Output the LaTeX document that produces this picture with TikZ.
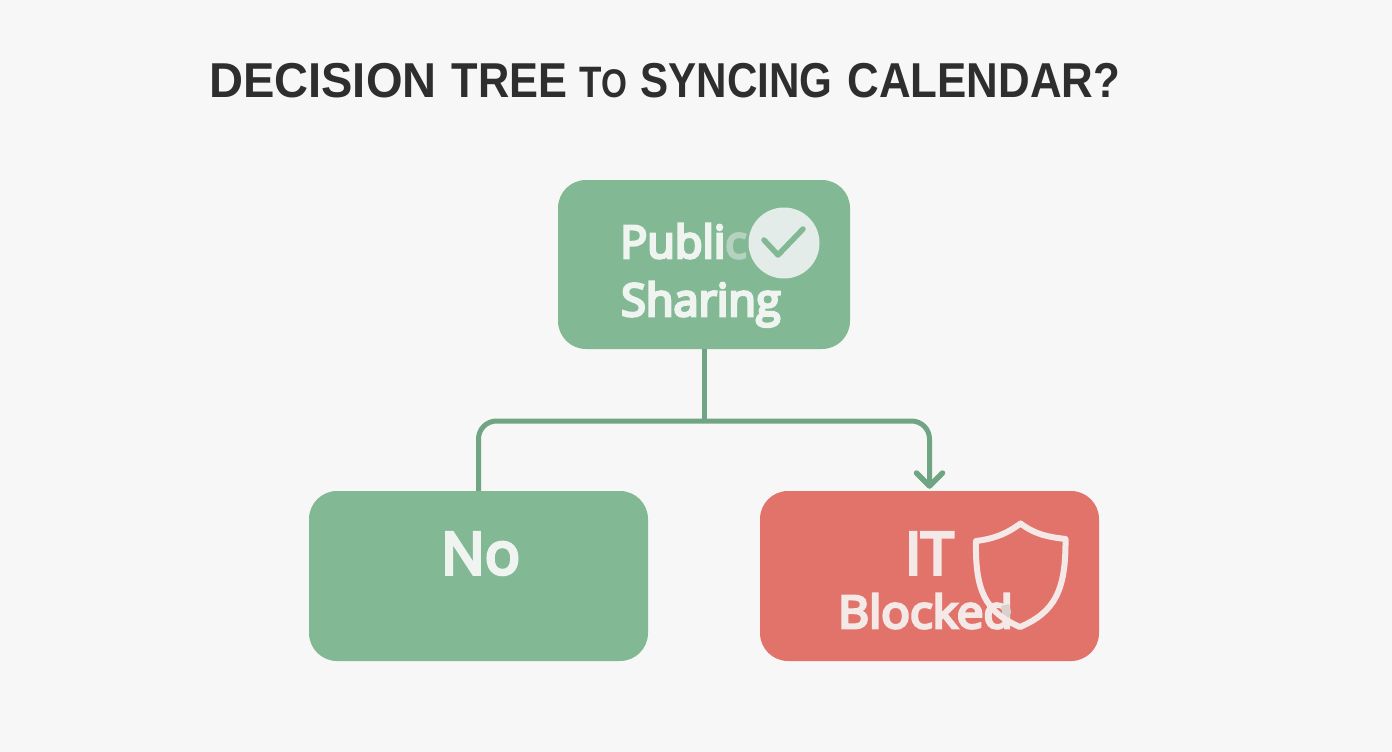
\documentclass[tikz,border=0pt]{standalone}
\usepackage{fontspec}
\setmainfont{Liberation Sans}
\newfontfamily\lab{Open Sans}[FakeBold=6]
\usetikzlibrary{arrows.meta}
\definecolor{bgc}{HTML}{F7F7F7}
\definecolor{grn}{HTML}{82B994}
\definecolor{lnk}{HTML}{6FA582}
\definecolor{redb}{HTML}{E2736B}
\definecolor{ink}{HTML}{2E2E2E}
\definecolor{wht}{HTML}{EFF4F1}
\definecolor{whr}{HTML}{F5E9E8}
\definecolor{fade}{HTML}{B5D2C1}
\definecolor{disc}{HTML}{E3ECE9}
\definecolor{patch}{HTML}{D8D2CE}
\newcommand{\wrd}[2]{\scalebox{#1}[1]{#2}}
\tikzset{
  box/.style={inner sep=0pt,rounded corners=28pt,minimum width=#1},
  lbl/.style={inner sep=0pt,anchor=base west,text=wht,font=\lab\fontsize{45}{45}\selectfont},
  lnkline/.style={draw=lnk,line width=5pt},
}
\begin{document}
\begin{tikzpicture}[x=1pt,y=-1pt]
\useasboundingbox (0,0) rectangle (1392,752);
\fill[bgc] (0,0) rectangle (1392,752);
\node[box=292pt,minimum height=169pt,fill=grn] (top) at (704,264.5) {};
\node[box=339pt,minimum height=170pt,fill=grn] (no) at (478.5,576) {};
\node[box=339pt,minimum height=170pt,fill=redb] (it) at (929.5,576) {};
\coordinate (jun) at (top.south |- 0,421);
\coordinate (tip) at (929.5,486);
\draw[lnkline] (top.south) -- (jun);
\draw[lnkline,rounded corners=18pt] (no.north) -- (no.north |- jun) -- (tip |- jun) -- (tip);
\draw[lnk,line width=5.5pt,line cap=round,line join=round] (916.5,473) -- (tip) -- (942.5,473);
% title
\node[inner sep=0pt,anchor=base west,text=ink,font=\bfseries\fontsize{49}{49}\selectfont] (title) at (209,97)
  {\wrd{0.96}{DECISION}\hspace{15pt}\wrd{0.885}{TREE}\hspace{12pt}\wrd{0.833}{{\fontsize{44}{44}\selectfont T}{\fontsize{40}{40}\selectfont O}}\hspace{13pt}\wrd{0.86}{SYNCING}\hspace{15pt}\wrd{0.895}{CALENDAR?}};
% top box
\node[lbl] (pub) at (620,258) {Publi\textcolor{fade}{c}};
\node[lbl] (sha) at (621,316) {Sharing};
\node[circle,fill=disc,minimum size=71pt,inner sep=0pt] (chk) at (784,243) {};
\draw[grn,line width=5.5pt,line cap=round,line join=round] (764,240) -- (778,255) -- (803,229);
% no
\node[lbl,font=\lab\fontsize{58}{58}\selectfont] (nol) at (441,574) {No};
% it
\node[lbl,text=whr,font=\lab\fontsize{58}{58}\selectfont] (itl) at (905,574) {IT};
\node[lbl,text=whr] (blk) at (838,628) {\scalebox{1.06}[1]{Blocked}};
\fill[patch] (1001,606) -- (1009,604) -- (1011,612) -- (1008,622) -- (1003,618) -- cycle;
\draw[whr,line width=6pt,line join=round] (1020.5,523.5) .. controls (1005,535) and (992,539) .. (976,541)
  .. controls (975,590) and (985,612) .. (1020,627) .. controls (1055,612) and (1066,590) .. (1065.5,539)
  .. controls (1049,537) and (1036,535) .. (1020.5,523.5) -- cycle;
\end{tikzpicture}
\end{document}
